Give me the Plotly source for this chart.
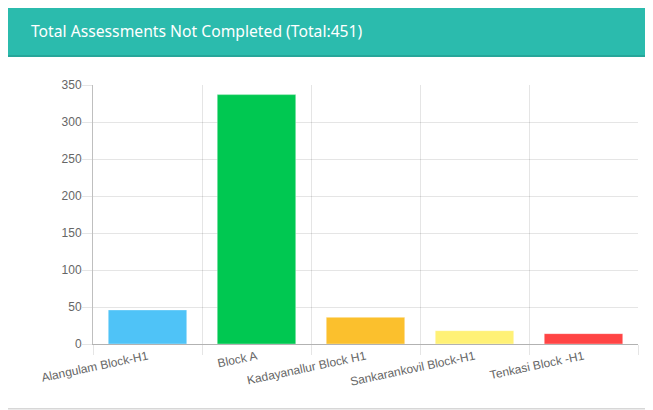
import plotly.graph_objects as go

categories = ["Alangulam Block-H1", "Block A", "Kadayanallur Block H1", "Sankarankovil Block-H1", "Tenkasi Block -H1"]
values = [46, 337, 36, 18, 14]
colors = ["#4fc3f7", "#00c851", "#fbc02d", "#fff176", "#ff4444"]
title_text = "Total Assessments Not Completed (Total:451)"
y_ticks = [0, 50, 100, 150, 200, 250, 300, 350]

# page body adds an 8px offset; compensate so absolute pixel targets match
O = 8
W, H = 653 - O, 410 - O
PLOT_L, PLOT_R, PLOT_T, PLOT_B = 93, 638, 85, 344
L, R, T, B = PLOT_L - O, W - (PLOT_R - O), PLOT_T - O, H - (PLOT_B - O)
PW, PH = W - L - R, H - T - B

def px(x):
    return (x - O - L) / PW

def py(y):
    return (H - B - (y - O)) / PH

fig = go.Figure(go.Bar(
    x=categories, y=values, marker=dict(color=colors, line=dict(width=1, color="rgba(255,255,255,0.35)")),
    hoverinfo="x+y",
))

shapes = []
for off, a in [(3, 0.03), (2, 0.05), (1, 0.08)]:
    shapes.append(dict(type="rect", xref="paper", yref="paper", layer="below",
                       x0=px(7 - off), x1=px(660), y0=py(5 - off), y1=py(408 + off),
                       fillcolor=f"rgba(0,0,0,{a})", line=dict(width=0)))
shapes.append(dict(type="rect", xref="paper", yref="paper", layer="below",
                   x0=px(7), x1=px(660), y0=py(5), y1=py(408),
                   fillcolor="white", line=dict(width=0)))
shapes.append(dict(type="rect", xref="paper", yref="paper", layer="below",
                   x0=px(7), x1=px(660), y0=py(5), y1=py(56),
                   fillcolor="#2bbbad", line=dict(width=0)))
shapes.append(dict(type="rect", xref="paper", yref="paper", layer="below",
                   x0=px(7), x1=px(660), y0=py(55), y1=py(57),
                   fillcolor="#26a69a", line=dict(width=0)))

fig.update_layout(
    width=W, height=H,
    margin=dict(l=L, r=R, t=T, b=B),
    paper_bgcolor="white", plot_bgcolor="rgba(0,0,0,0)",
    showlegend=False, bargap=0.28,
    shapes=shapes,
    annotations=[dict(text=title_text, xref="paper", yref="paper", x=px(29), y=py(31),
                      xanchor="left", yanchor="middle", showarrow=False,
                      font=dict(family="Noto Sans", size=15.7, color="white"))],
    font=dict(family="Liberation Sans, Arial", size=12, color="#666"),
    xaxis=dict(
        tickson="boundaries", ticks="outside", ticklen=10, tickcolor="rgba(0,0,0,0.1)",
        showgrid=True, gridcolor="rgba(0,0,0,0.1)", gridwidth=1,
        showline=True, linecolor="rgba(0,0,0,0.3)", linewidth=1,
        tickangle=-12, tickfont=dict(size=12, color="#666"),
        range=[-0.5, 4.5], fixedrange=True,
    ),
    yaxis=dict(
        range=[0, 350], tickvals=y_ticks, ticks="outside", ticklen=10,
        tickcolor="rgba(0,0,0,0.1)", showgrid=True, gridcolor="rgba(0,0,0,0.1)",
        showline=True, linecolor="rgba(0,0,0,0.25)", linewidth=1, zeroline=False,
        tickfont=dict(size=12, color="#666"), ticklabelstandoff=-2, fixedrange=True,
    ),
)

fig.write_html("out.html")
